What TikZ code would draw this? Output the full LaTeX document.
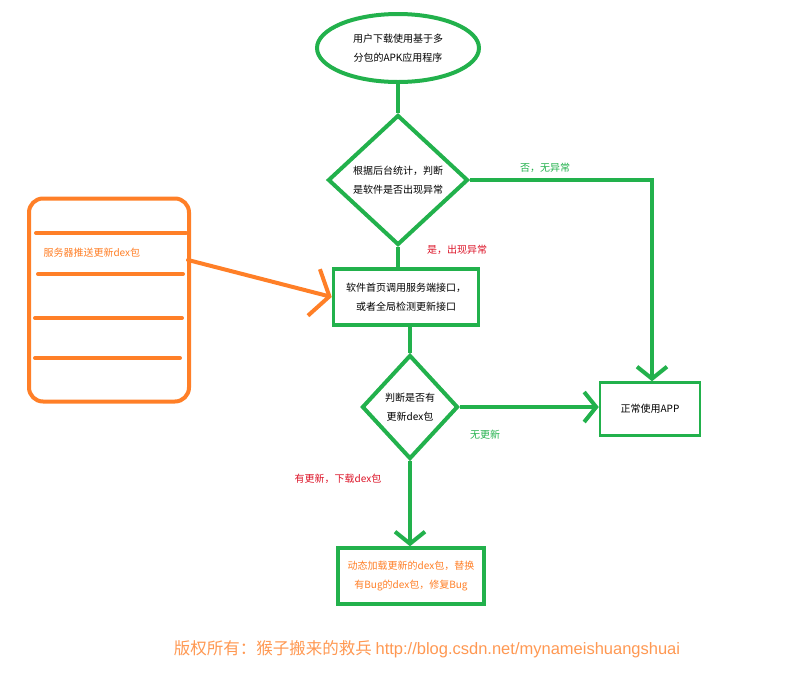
\documentclass[tikz,border=0pt]{standalone}
\usepackage{fontspec}
\setmainfont{Liberation Sans}
\newfontfamily\cjk{Noto Sans CJK SC}
\usetikzlibrary{shapes.geometric,arrows.meta}
\definecolor{gr}{RGB}{34,177,76}
\definecolor{og}{RGB}{255,127,39}
\definecolor{rd}{RGB}{220,20,40}
\tikzset{
 gline/.style={draw=gr,line width=4pt},
 garrow/.style={gr,line width=4pt,-{Straight Barb[length=12pt,width=30pt,line width=4pt]}},
 txt/.style={font=\cjk\fontsize{10}{19}\selectfont,align=center},
 lab/.style={font=\cjk\fontsize{10}{12}\selectfont},
}
\begin{document}
\begin{tikzpicture}[x=1pt,y=-1pt]
\useasboundingbox (0,0) rectangle (807,681);
\node[ellipse,gline,minimum width=162,minimum height=68,inner sep=0,txt] (start) at (398,48) {用户下载使用基于多\\分包的APK应用程序};
\node[diamond,gline,minimum width=140,minimum height=130,inner sep=0,txt] (d1) at (398,180) {根据后台统计，判断\\是软件是否出现异常};
\node[draw=gr,line width=3.5pt,minimum width=145,minimum height=56,inner sep=0,txt] (r1) at (406,297) {软件首页调用服务端接口，\\或者全局检测更新接口};
\node[diamond,gline,minimum width=96,minimum height=104,inner sep=0,txt] (d2) at (410,407) {判断是否有\\更新dex包};
\node[draw=gr,line width=2.5pt,minimum width=100,minimum height=53,inner sep=0,txt] (app) at (650,409) {正常使用APP};
\node[draw=gr,line width=3.5pt,minimum width=146,minimum height=56,inner sep=0,txt,text=og] (r2) at (411,576) {动态加载更新的dex包，替换\\有Bug的dex包，修复Bug};
\draw[gline] (start.south) -- (d1.north);
\draw[gline] (d1.south) -- (r1.north -| d1.south);
\coordinate (c1) at (652,180);
\draw[garrow] (d1.east) -- (c1) -- (app.north -| c1);
\draw[gline] (r1.south -| d2.north) -- (d2.north);
\draw[garrow] (d2.east) -- (app.west |- d2.east);
\draw[garrow] (d2.south) -- (r2.north -| d2.south);
\node[lab,text=gr] at (545,168) {否，无异常};
\node[lab,text=rd] at (457,250) {是，出现异常};
\node[lab,text=gr] at (485,435) {无更新};
\node[lab,text=rd] at (338,479) {有更新，下载dex包};
% orange server box
\node[draw=og,line width=4pt,rounded corners=14pt,minimum width=160,minimum height=203,inner sep=0] (srv) at (109,300) {};
\foreach \yy/\a/\b in {233/36/186,274/38/183,318/35/182,358/35/180}
  \draw[og,line width=4pt,line cap=round] (\a,\yy) -- (\b,\yy);
\node[lab,text=og,anchor=west] (srvt) at (40,253) {服务器推送更新dex包};
\draw[og,line width=4pt,line cap=round,-{Straight Barb[length=16pt,width=48pt,line width=4pt]}] (188,260) -- (r1.west);
\node[font=\cjk\fontsize{16.5}{18}\selectfont,text=og!80] (foot) at (427,649) {版权所有：猴子搬来的救兵 {\rmfamily http://blog.csdn.net/mynameishuangshuai}};
\end{tikzpicture}
\end{document}
